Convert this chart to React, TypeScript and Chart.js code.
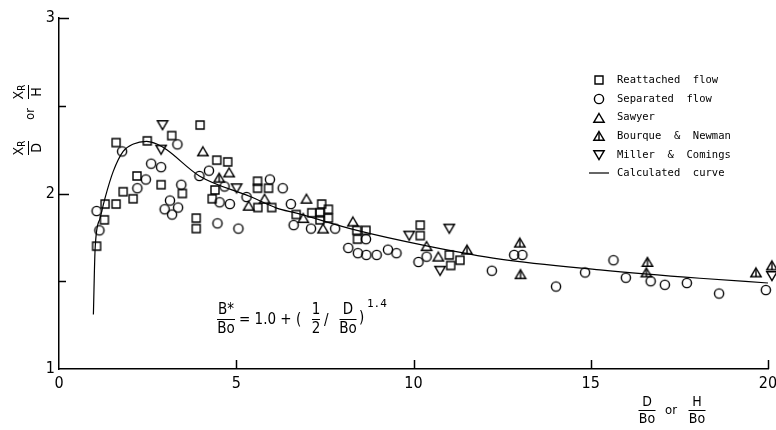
import { useEffect, useRef } from 'react';
import { Chart, registerables } from 'chart.js';

Chart.register(...registerables);

// ---- data ----
const reattachedX = [1.06, 1.28, 1.30, 1.61, 1.61, 1.81, 2.09, 2.20, 2.49, 2.88, 3.18, 3.48, 3.98, 3.87, 3.87, 4.45, 4.76, 4.40, 4.32, 5.60, 5.60, 5.91, 5.61, 6.00, 6.69, 7.13, 7.41, 7.36, 7.60, 7.36, 7.60, 8.40, 8.66, 8.42, 10.19, 10.19, 11.01, 11.31, 11.05];
const reattachedY = [1.70, 1.85, 1.94, 2.29, 1.94, 2.01, 1.97, 2.10, 2.30, 2.05, 2.33, 2.00, 2.39, 1.86, 1.80, 2.19, 2.18, 2.02, 1.97, 2.07, 2.03, 2.03, 1.92, 1.92, 1.88, 1.89, 1.94, 1.89, 1.91, 1.85, 1.86, 1.79, 1.79, 1.74, 1.82, 1.76, 1.65, 1.62, 1.59];

const separatedX = [1.06, 1.14, 1.78, 2.21, 2.45, 2.60, 2.88, 3.45, 3.34, 3.13, 3.36, 2.98, 3.19, 3.96, 4.23, 4.47, 4.53, 4.67, 4.82, 5.06, 5.29, 5.95, 6.31, 6.54, 6.62, 7.11, 7.79, 8.16, 8.43, 8.67, 8.96, 9.28, 9.52, 8.66, 10.14, 10.37, 12.21, 12.84, 13.07, 14.02, 14.84, 15.64, 15.99, 16.69, 17.09, 17.71, 18.62, 19.94];
const separatedY = [1.90, 1.79, 2.24, 2.03, 2.08, 2.17, 2.15, 2.05, 2.28, 1.96, 1.92, 1.91, 1.88, 2.10, 2.13, 1.83, 1.95, 2.04, 1.94, 1.80, 1.98, 2.08, 2.03, 1.94, 1.82, 1.80, 1.80, 1.69, 1.66, 1.65, 1.65, 1.68, 1.66, 1.74, 1.61, 1.64, 1.56, 1.65, 1.65, 1.47, 1.55, 1.62, 1.52, 1.50, 1.48, 1.49, 1.43, 1.45];

const sawyerX = [4.06, 4.80, 5.35, 5.80, 6.98, 7.45, 8.29, 10.37, 10.70, 6.89];
const sawyerY = [2.24, 2.12, 1.93, 1.97, 1.97, 1.80, 1.84, 1.70, 1.64, 1.86];

const bourqueX = [4.52, 11.51, 13.00, 13.02, 16.60, 16.57, 19.66, 20.11];
const bourqueY = [2.09, 1.68, 1.72, 1.54, 1.61, 1.55, 1.55, 1.59];

const millerX = [2.92, 2.88, 5.01, 9.88, 11.01, 10.75, 20.11];
const millerY = [2.39, 2.25, 2.03, 1.76, 1.80, 1.56, 1.53];

const curveX = [0.97, 1.02, 1.16, 1.30, 1.53, 1.81, 2.10, 2.47, 2.76, 3.04, 3.96, 5.39, 6.14, 6.70, 8.35, 10.37, 12.44, 15.26, 18.08, 20];
const curveY = [1.31, 1.69, 1.86, 1.975, 2.126, 2.24, 2.282, 2.297, 2.282, 2.249, 2.10, 1.983, 1.917, 1.888, 1.793, 1.702, 1.626, 1.565, 1.517, 1.49];

const xTickValues = [0, 5, 10, 15, 20];
const yMajorTicks = [1, 2, 3];
const yMinorTicks = [1.5, 2.5];

const legendLabels = ['Reattached  flow', 'Separated  flow', 'Sawyer', 'Bourque  &  Newman', 'Miller  &  Comings', 'Calculated  curve'];

const FONT_NUM = '"Liberation Sans Narrow", "DejaVu Sans Condensed", "Liberation Sans", sans-serif';
const FONT_MONO = '"DejaVu Sans Mono", "Liberation Mono", monospace';

type Kind = 'square' | 'circle' | 'up' | 'upline' | 'down';

function makeMarker(kind: Kind): HTMLCanvasElement {
  const c = document.createElement('canvas');
  c.width = 14;
  c.height = 14;
  const g = c.getContext('2d')!;
  g.strokeStyle = '#000';
  g.lineWidth = 1.4;
  g.beginPath();
  if (kind === 'square') g.rect(3, 3, 8, 8);
  else if (kind === 'circle') g.arc(7, 7, 4.6, 0, Math.PI * 2);
  else if (kind === 'up' || kind === 'upline') {
    g.moveTo(7, 2.5);
    g.lineTo(12.2, 11.3);
    g.lineTo(1.8, 11.3);
    g.closePath();
  } else {
    g.moveTo(1.8, 2.7);
    g.lineTo(12.2, 2.7);
    g.lineTo(7, 11.5);
    g.closePath();
  }
  g.stroke();
  if (kind === 'upline') {
    g.beginPath();
    g.moveTo(7, 3);
    g.lineTo(7, 11.3);
    g.stroke();
  }
  return c;
}

function pts(xs: number[], ys: number[]) {
  return xs.map((x, i) => ({ x, y: ys[i] }));
}

function drawFrac(ctx: CanvasRenderingContext2D, cx: number, cy: number, num: string, den: string, font: string, w: number, gap = 8) {
  ctx.font = font;
  ctx.textAlign = 'center';
  ctx.textBaseline = 'middle';
  ctx.fillText(num, cx, cy - gap);
  ctx.fillText(den, cx, cy + gap + 1);
  ctx.beginPath();
  ctx.moveTo(cx - w / 2, cy + 0.5);
  ctx.lineTo(cx + w / 2, cy + 0.5);
  ctx.lineWidth = 1;
  ctx.stroke();
}

function drawXR(ctx: CanvasRenderingContext2D, cx: number, cy: number, size: number) {
  ctx.textBaseline = 'middle';
  ctx.textAlign = 'left';
  ctx.font = `${size}px ${FONT_NUM}`;
  const wX = ctx.measureText('X').width;
  ctx.font = `${size * 0.7}px ${FONT_NUM}`;
  const wR = ctx.measureText('R').width;
  const start = cx - (wX + wR) / 2;
  ctx.font = `${size}px ${FONT_NUM}`;
  ctx.fillText('X', start, cy);
  ctx.font = `${size * 0.7}px ${FONT_NUM}`;
  ctx.fillText('R', start + wX, cy + 3);
}

const overlayPlugin = {
  id: 'overlay',
  afterDatasetsDraw(chart: any) {
    const ctx: CanvasRenderingContext2D = chart.ctx;
    const xs = chart.scales.x;
    const ys = chart.scales.y;
    const area = chart.chartArea;
    ctx.save();
    ctx.strokeStyle = '#000';
    ctx.fillStyle = '#000';
    ctx.lineWidth = 1.5;
    // inner ticks
    for (const v of xTickValues.slice(1)) {
      const px = Math.round(xs.getPixelForValue(v)) + 0.5;
      ctx.beginPath();
      ctx.moveTo(px, area.bottom);
      ctx.lineTo(px, area.bottom - 9);
      ctx.stroke();
    }
    for (const v of yMajorTicks.slice(1)) {
      const py = Math.round(ys.getPixelForValue(v)) + 0.5;
      ctx.beginPath();
      ctx.moveTo(area.left, py);
      ctx.lineTo(area.left + 10, py);
      ctx.stroke();
    }
    for (const v of yMinorTicks) {
      const py = Math.round(ys.getPixelForValue(v)) + 0.5;
      ctx.beginPath();
      ctx.moveTo(area.left, py);
      ctx.lineTo(area.left + 7, py);
      ctx.stroke();
    }

    // legend
    const legX = 599;
    const textX = 617;
    const rowY = [80, 99, 117.5, 136, 155, 173];
    chart.data.datasets.forEach((ds: any, i: number) => {
      const y = rowY[i];
      if (ds.pointStyle && typeof ds.pointStyle !== 'string') {
        const img = ds.pointStyle as HTMLCanvasElement;
        ctx.drawImage(img, Math.round(legX - img.width / 2), Math.round(y - img.height / 2));
      } else {
        ctx.beginPath();
        ctx.lineWidth = 1.2;
        ctx.moveTo(legX - 10, y);
        ctx.lineTo(legX + 10, y);
        ctx.stroke();
      }
      ctx.font = `10.5px ${FONT_MONO}`;
      ctx.textAlign = 'left';
      ctx.textBaseline = 'middle';
      ctx.fillText(legendLabels[i], textX, y);
    });

    // y-axis title (rotated)
    ctx.save();
    ctx.translate(28, 148);
    ctx.rotate(-Math.PI / 2);
    drawXR(ctx, 0, -9, 14);
    ctx.font = `14px ${FONT_NUM}`;
    ctx.textAlign = 'center';
    ctx.fillText('D', 0, 9);
    ctx.beginPath();
    ctx.lineWidth = 1;
    ctx.moveTo(-7, 0.5);
    ctx.lineTo(7, 0.5);
    ctx.stroke();
    ctx.font = `13px ${FONT_NUM}`;
    ctx.fillText('or', 34, 3);
    drawXR(ctx, 56, -9, 14);
    ctx.font = `14px ${FONT_NUM}`;
    ctx.textAlign = 'center';
    ctx.fillText('H', 56, 9);
    ctx.beginPath();
    ctx.moveTo(49, 0.5);
    ctx.lineTo(63, 0.5);
    ctx.stroke();
    ctx.restore();

    // x-axis title
    const fx = `14px ${FONT_NUM}`;
    drawFrac(ctx, 647, 410, 'D', 'Bo', fx, 17);
    ctx.font = `13px ${FONT_NUM}`;
    ctx.textAlign = 'center';
    ctx.fillText('or', 671, 411);
    drawFrac(ctx, 697, 410, 'H', 'Bo', fx, 17);

    // formula
    const ff = `15px ${FONT_NUM}`;
    drawFrac(ctx, 226, 319, 'B*', 'Bo', ff, 18, 9);
    ctx.font = ff;
    ctx.textAlign = 'left';
    ctx.textBaseline = 'middle';
    ctx.fillText('= 1.0 + (', 239, 320);
    drawFrac(ctx, 316, 319, '1', '2', ff, 8, 9);
    ctx.font = ff;
    ctx.textAlign = 'left';
    ctx.fillText('/', 324, 321);
    drawFrac(ctx, 348, 319, 'D', 'Bo', ff, 17, 9);
    ctx.font = ff;
    ctx.textAlign = 'left';
    ctx.fillText(')', 359, 318);
    ctx.font = `11px ${FONT_MONO}`;
    ctx.fillText('1.4', 367, 304);
    ctx.restore();
  },
};

export default function App() {
  const ref = useRef<HTMLCanvasElement | null>(null);
  useEffect(() => {
    if (!ref.current) return;
    const sq = makeMarker('square');
    const ci = makeMarker('circle');
    const up = makeMarker('up');
    const ul = makeMarker('upline');
    const dn = makeMarker('down');
    const scatterBase = { showLine: false, pointRadius: 5, pointHoverRadius: 5, clip: false as any, borderColor: '#000', backgroundColor: 'transparent' };
    const chart = new Chart(ref.current, {
      type: 'scatter',
      data: {
        datasets: [
          { ...scatterBase, label: legendLabels[0], data: pts(reattachedX, reattachedY), pointStyle: sq },
          { ...scatterBase, label: legendLabels[1], data: pts(separatedX, separatedY), pointStyle: ci },
          { ...scatterBase, label: legendLabels[2], data: pts(sawyerX, sawyerY), pointStyle: up },
          { ...scatterBase, label: legendLabels[3], data: pts(bourqueX, bourqueY), pointStyle: ul },
          { ...scatterBase, label: legendLabels[4], data: pts(millerX, millerY), pointStyle: dn },
          {
            label: legendLabels[5],
            data: pts(curveX, curveY),
            showLine: true,
            pointRadius: 0,
            borderColor: '#000',
            borderWidth: 1.2,
            cubicInterpolationMode: 'monotone',
            fill: false,
          } as any,
        ],
      },
      options: {
        responsive: false,
        animation: false,
        devicePixelRatio: 1,
        layout: { padding: { left: 0, top: 18, right: 8, bottom: 0 } },
        plugins: { legend: { display: false }, tooltip: { enabled: false } },
        scales: {
          x: {
            type: 'linear',
            min: 0,
            max: 20,
            afterFit: (s: any) => {
              s.height = 61;
              s.paddingLeft = 0;
              s.paddingRight = 0;
            },
            ticks: { stepSize: 5, padding: 5, color: '#000', maxRotation: 0, font: { size: 16, family: FONT_NUM } },
            grid: { display: true, drawOnChartArea: false, drawTicks: false },
            border: { display: true, color: '#000', width: 1.5 },
          },
          y: {
            type: 'linear',
            min: 1,
            max: 3,
            afterFit: (s: any) => {
              s.width = 59;
              s.paddingTop = 0;
              s.paddingBottom = 0;
            },
            ticks: {
              stepSize: 0.5,
              padding: 4,
              color: '#000',
              font: { size: 16, family: FONT_NUM },
              callback: (v: any) => (Number.isInteger(v) ? String(v) : ''),
            },
            grid: { display: true, drawOnChartArea: false, drawTicks: false },
            border: { display: true, color: '#000', width: 1.5 },
          },
        },
      },
      plugins: [overlayPlugin],
    });
    return () => chart.destroy();
  }, []);
  return (
    <div style={{ position: 'absolute', left: 0, top: 0, width: 776, height: 430, background: '#fff' }}>
      <canvas ref={ref} width={776} height={430} style={{ display: 'block', width: 776, height: 430 }} />
    </div>
  );
}
